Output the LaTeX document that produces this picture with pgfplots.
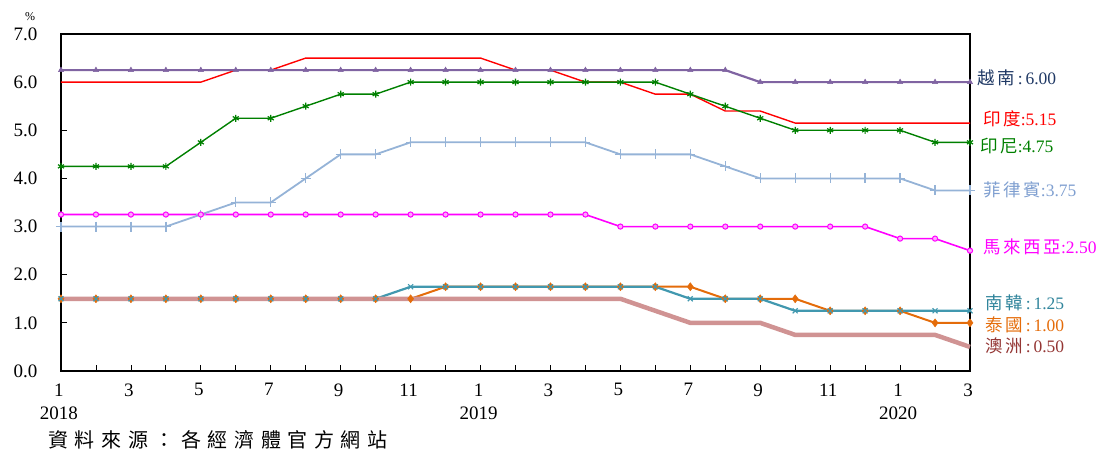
\documentclass[border=0pt]{standalone}
\usepackage{fontspec}
\setmainfont{Liberation Serif}
\newfontfamily\cjk{Noto Sans CJK TC}
\usepackage{pgfplots}
\pgfplotsset{compat=1.18}
\definecolor{cVN}{HTML}{8064A2}
\definecolor{cVNt}{HTML}{1F3864}
\definecolor{cIN}{HTML}{FF0000}
\definecolor{cID}{HTML}{008000}
\definecolor{cPH}{HTML}{95B3D7}
\definecolor{cPHt}{HTML}{7F9FD0}
\definecolor{cMY}{HTML}{FF00FF}
\definecolor{cKR}{HTML}{4198AF}
\definecolor{cKRt}{HTML}{31859C}
\definecolor{cTH}{HTML}{E46C0A}
\definecolor{cAU}{HTML}{D09393}
\definecolor{cAUt}{HTML}{943634}
\newcommand{\cj}[1]{{\cjk\addfontfeature{LetterSpace=15}#1}}
\begin{document}
\begin{tikzpicture}
\useasboundingbox (-61pt,-83pt) rectangle (1036pt,371pt);
\begin{axis}[
  at={(0pt,0pt)}, anchor=south west,
  scale only axis, width=909pt, height=337pt,
  xmin=0, xmax=26, ymin=0, ymax=7,
  clip=false,
  axis line style={line width=1.3pt},
  tick align=inside, xtick pos=bottom, ytick pos=left,
  major tick length=6pt,
  tick style={line width=0.8pt, black},
  xtick={0,...,26},
  xticklabels={{1\\2018},{},3,{},5,{},7,{},9,{},11,{},{1\\2019},{},3,{},5,{},7,{},9,{},11,{},{1\\2020},{},3},
  xticklabel style={align=center, font=\fontsize{19}{23}\selectfont, yshift=-9pt, xshift=-2pt},
  ytick={0,1,...,7},
  yticklabel style={font=\fontsize{19}{22}\selectfont, xshift=-20pt},
  /pgf/number format/.cd, fixed, fixed zerofill, precision=1, assume math mode=true,
]
% India
\addplot[cIN, line width=1.4pt, mark=none] coordinates {
(0,6)(1,6)(2,6)(3,6)(4,6)(5,6.25)(6,6.25)(7,6.5)(8,6.5)(9,6.5)(10,6.5)(11,6.5)(12,6.5)(13,6.25)(14,6.25)(15,6)(16,6)(17,5.75)(18,5.75)(19,5.4)(20,5.4)(21,5.15)(22,5.15)(23,5.15)(24,5.15)(25,5.15)(26,5.15)};
% Indonesia
\addplot[cID, line width=1.4pt, mark=asterisk, mark size=3.5pt, mark options={line width=1.2pt}] coordinates {
(0,4.25)(1,4.25)(2,4.25)(3,4.25)(4,4.75)(5,5.25)(6,5.25)(7,5.5)(8,5.75)(9,5.75)(10,6)(11,6)(12,6)(13,6)(14,6)(15,6)(16,6)(17,6)(18,5.75)(19,5.5)(20,5.25)(21,5)(22,5)(23,5)(24,5)(25,4.75)(26,4.75)};
% Vietnam
\addplot[cVN, line width=2.2pt, mark=triangle*, mark size=3pt, mark options={line width=0.5pt}] coordinates {
(0,6.25)(1,6.25)(2,6.25)(3,6.25)(4,6.25)(5,6.25)(6,6.25)(7,6.25)(8,6.25)(9,6.25)(10,6.25)(11,6.25)(12,6.25)(13,6.25)(14,6.25)(15,6.25)(16,6.25)(17,6.25)(18,6.25)(19,6.25)(20,6)(21,6)(22,6)(23,6)(24,6)(25,6)(26,6)};
% Philippines
\addplot[cPH, line width=1.8pt, mark=+, mark size=5pt, mark options={line width=1.3pt}] coordinates {
(0,3)(1,3)(2,3)(3,3)(4,3.25)(5,3.5)(6,3.5)(7,4)(8,4.5)(9,4.5)(10,4.75)(11,4.75)(12,4.75)(13,4.75)(14,4.75)(15,4.75)(16,4.5)(17,4.5)(18,4.5)(19,4.25)(20,4)(21,4)(22,4)(23,4)(24,4)(25,3.75)(26,3.75)};
% Malaysia
\addplot[cMY, line width=1.6pt, mark=*, mark size=2.6pt, mark options={fill=cMY!35, line width=1pt}] coordinates {
(0,3.25)(1,3.25)(2,3.25)(3,3.25)(4,3.25)(5,3.25)(6,3.25)(7,3.25)(8,3.25)(9,3.25)(10,3.25)(11,3.25)(12,3.25)(13,3.25)(14,3.25)(15,3.25)(16,3)(17,3)(18,3)(19,3)(20,3)(21,3)(22,3)(23,3)(24,2.75)(25,2.75)(26,2.5)};
% Thailand
\addplot[cTH, line width=2pt, mark=diamond*, mark size=4pt, mark options={line width=0.5pt}] coordinates {
(0,1.5)(1,1.5)(2,1.5)(3,1.5)(4,1.5)(5,1.5)(6,1.5)(7,1.5)(8,1.5)(9,1.5)(10,1.5)(11,1.75)(12,1.75)(13,1.75)(14,1.75)(15,1.75)(16,1.75)(17,1.75)(18,1.75)(19,1.5)(20,1.5)(21,1.5)(22,1.25)(23,1.25)(24,1.25)(25,1)(26,1)};
% Korea
\addplot[cKR, line width=2.2pt, mark=x, mark size=3.5pt, mark options={line width=1.2pt}] coordinates {
(0,1.5)(1,1.5)(2,1.5)(3,1.5)(4,1.5)(5,1.5)(6,1.5)(7,1.5)(8,1.5)(9,1.5)(10,1.75)(11,1.75)(12,1.75)(13,1.75)(14,1.75)(15,1.75)(16,1.75)(17,1.75)(18,1.5)(19,1.5)(20,1.5)(21,1.25)(22,1.25)(23,1.25)(24,1.25)(25,1.25)(26,1.25)};
% Australia
\addplot[cAU, line width=4.5pt, mark=none] coordinates {
(0,1.5)(1,1.5)(2,1.5)(3,1.5)(4,1.5)(5,1.5)(6,1.5)(7,1.5)(8,1.5)(9,1.5)(10,1.5)(11,1.5)(12,1.5)(13,1.5)(14,1.5)(15,1.5)(16,1.5)(17,1.25)(18,1)(19,1)(20,1)(21,0.75)(22,0.75)(23,0.75)(24,0.75)(25,0.75)(26,0.5)};
% right labels
\begin{scope}[every node/.style={anchor=west, font=\fontsize{17.5}{20}\selectfont, inner sep=0pt}]
\node[text=cVNt] at (axis cs:26,6.09) [xshift=7pt] {\cj{越南}\,:\,6.00};
\node[text=cIN] at (axis cs:26,5.23) [xshift=13pt] {\cj{印度}:5.15};
\node[text=cID] at (axis cs:26,4.67) [xshift=10pt] {\cj{印尼}:4.75};
\node[text=cPHt] at (axis cs:26,3.76) [xshift=13pt] {\cj{菲律賓}:3.75};
\node[text=cMY] at (axis cs:26,2.58) [xshift=13pt] {\cj{馬來西亞}:2.50};
\node[text=cKRt] at (axis cs:26,1.41) [xshift=15pt] {\cj{南韓}\,:\,1.25};
\node[text=cTH] at (axis cs:26,0.96) [xshift=15pt] {\cj{泰國}\,:\,1.00};
\node[text=cAUt] at (axis cs:26,0.52) [xshift=15pt] {\cj{澳洲}\,:\,0.50};
\end{scope}
\end{axis}
\node[anchor=center, font=\fontsize{12}{14}\selectfont, inner sep=0pt] at (-31pt,354pt) {\%};
\node[anchor=west, inner sep=0pt, font=\fontsize{20}{24}\selectfont] at (-13pt,-69pt) {\cjk\addfontfeature{LetterSpace=33}資料來源：各經濟體官方網站};
\end{tikzpicture}
\end{document}
